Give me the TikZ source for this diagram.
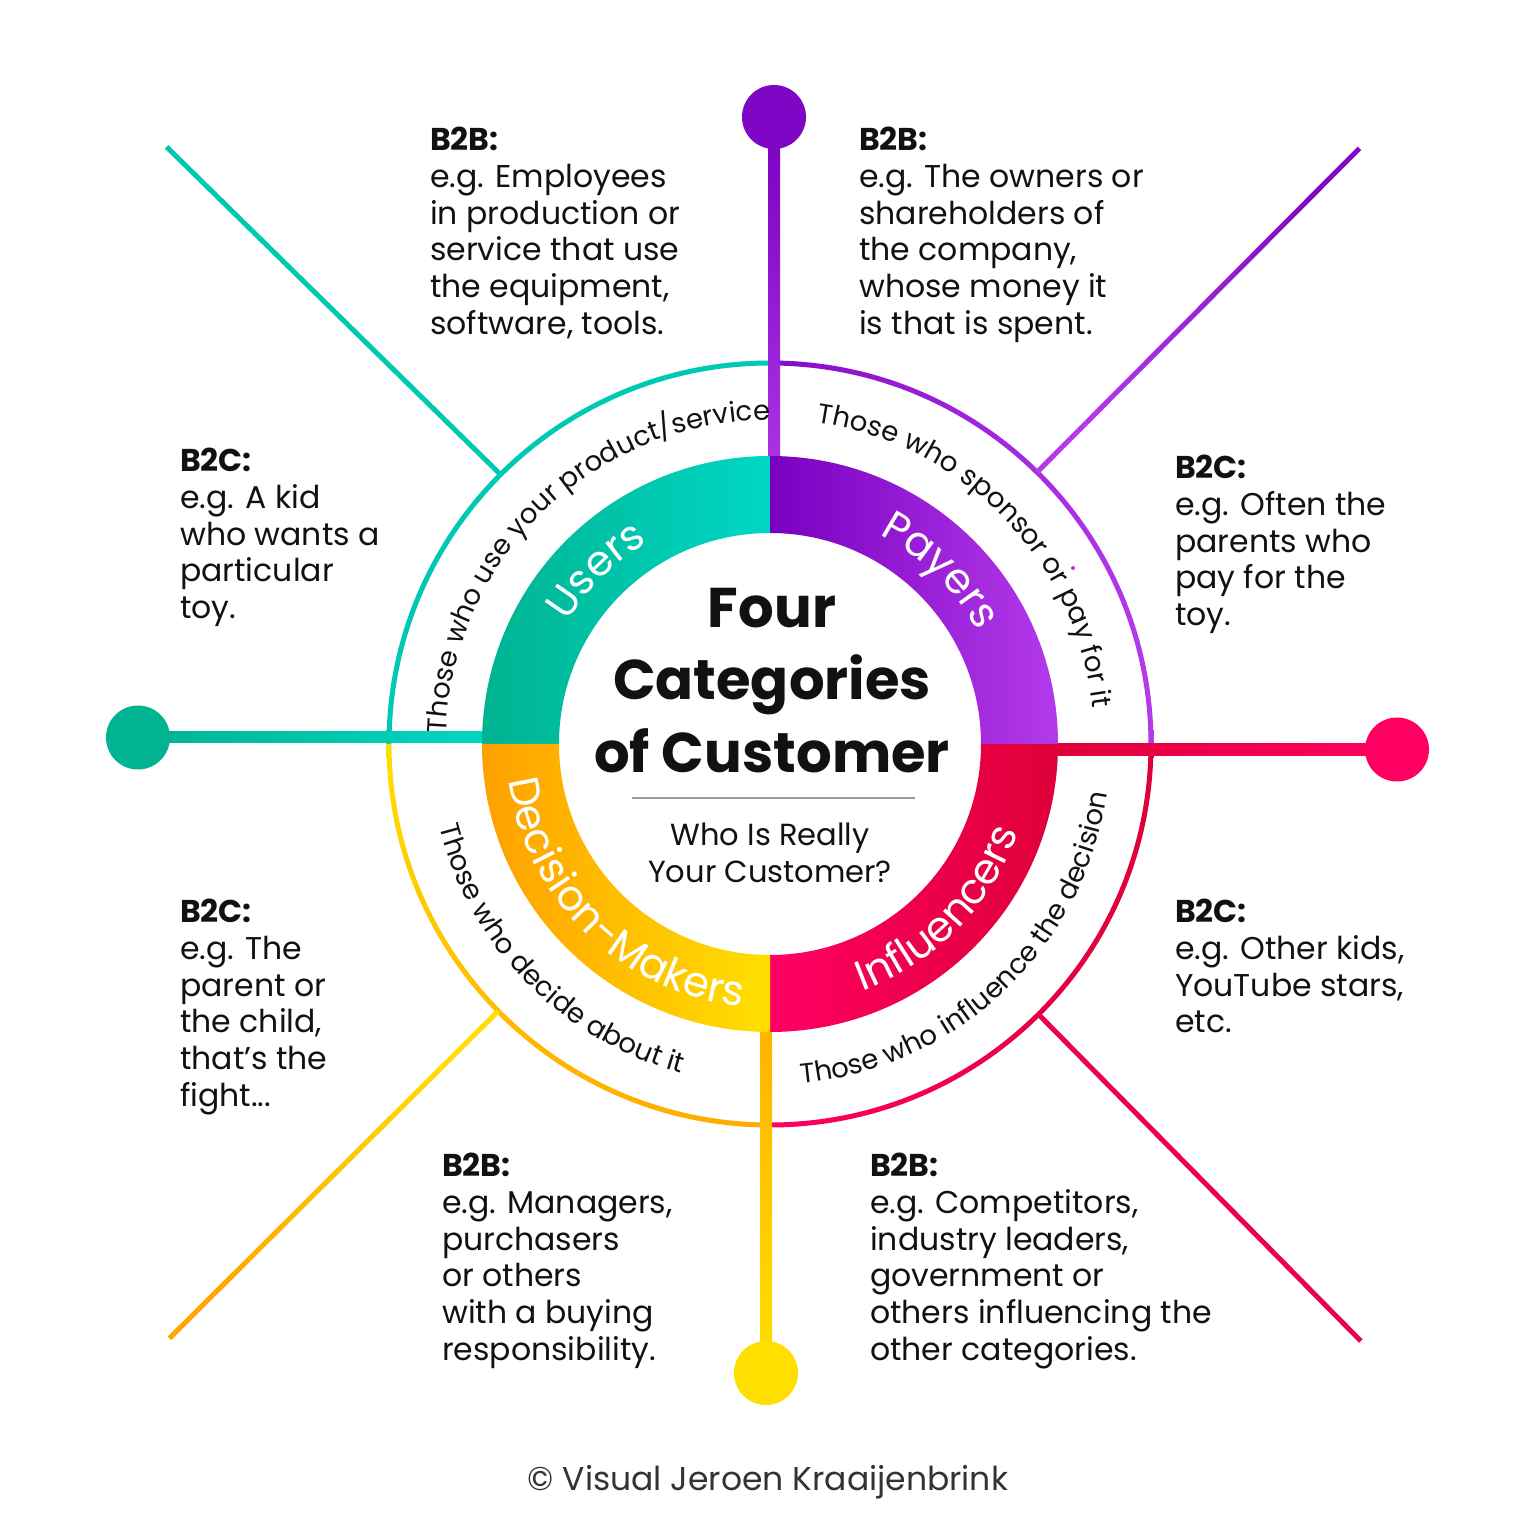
\documentclass[tikz,border=0pt]{standalone}
\usepackage{fontspec}
\setmainfont{Poppins}
\usetikzlibrary{decorations.text,calc}
\definecolor{tealD}{HTML}{00B391}
\definecolor{tealL}{HTML}{00D7C5}
\definecolor{tealM}{HTML}{00C9B3}
\definecolor{purD}{HTML}{7800C0}
\definecolor{purL}{HTML}{B43BEA}
\definecolor{purM}{HTML}{9A28DA}
\definecolor{redD}{HTML}{DE0038}
\definecolor{redL}{HTML}{FF0062}
\definecolor{redM}{HTML}{EC0050}
\definecolor{oraD}{HTML}{FFA000}
\definecolor{yelL}{HTML}{FFDF00}
\definecolor{yelM}{HTML}{FFCC00}
\definecolor{txt}{HTML}{111111}
\newcommand\arcfont{\fontsize{27.5}{27.5}\selectfont}
\newcommand\lblfont{\fontsize{42}{42}\selectfont}
\begin{document}
\begin{tikzpicture}[x=1pt,y=1pt,
  dot/.style={circle,inner sep=0pt,minimum size=64pt},
  diag/.style={line width=5pt},
  blk/.style={anchor=north west,inner sep=0pt,align=left,text=txt,font=\fontsize{31.5}{36.7}\selectfont},
  ttl/.style={anchor=base,inner sep=0pt,text=txt,font=\fontsize{56}{56}\selectfont\bfseries},
  sub/.style={anchor=base,inner sep=0pt,text=txt,font=\fontsize{30.5}{30.5}\selectfont}]
\useasboundingbox (-770,-792) rectangle (766,744);
\fill[white] (-770,-792) rectangle (766,744);

% thin outer circle, four coloured quarters
\shade[left color=tealM,right color=tealM] (180:383.5) arc[start angle=180,end angle=90,radius=383.5] -- (90:378.5) arc[start angle=90,end angle=180,radius=378.5] -- cycle;
\shade[left color=purD!80!purL,right color=purL] (90:383.5) arc[start angle=90,end angle=0,radius=383.5] -- (0:378.5) arc[start angle=0,end angle=90,radius=378.5] -- cycle;
\shade[left color=redL,right color=redD] (270:383.5) arc[start angle=270,end angle=360,radius=383.5] -- (0:378.5) arc[start angle=360,end angle=270,radius=378.5] -- cycle;
\shade[top color=yelL,bottom color=oraD!80!yelL] (180:383.5) arc[start angle=180,end angle=270,radius=383.5] -- (270:378.5) arc[start angle=270,end angle=180,radius=378.5] -- cycle;

% diagonal lines
\coordinate (dTLa) at (135:381); \coordinate (dTLb) at (135.3:849);
\coordinate (dTRa) at (45.5:381); \coordinate (dTRb) at (45.3:838);
\coordinate (dBLa) at (224.5:381); \coordinate (dBLb) at (224.7:845);
\coordinate (dBRa) at (314.8:381); \coordinate (dBRb) at (314.7:840);
\draw[diag,tealM] (dTLa) -- (dTLb);
\shade[top color=purD!85!purL,bottom color=purL,shading angle=-45]
  ($(dTRa)!2.5pt!90:(dTRb)$) -- ($(dTRb)!2.5pt!-90:(dTRa)$) -- ($(dTRb)!2.5pt!90:(dTRa)$) -- ($(dTRa)!2.5pt!-90:(dTRb)$) -- cycle;
\shade[top color=yelL,bottom color=oraD!90!yelL,shading angle=-45]
  ($(dBLa)!2.5pt!90:(dBLb)$) -- ($(dBLb)!2.5pt!-90:(dBLa)$) -- ($(dBLb)!2.5pt!90:(dBLa)$) -- ($(dBLa)!2.5pt!-90:(dBLb)$) -- cycle;
\draw[diag,redM] (dBRa) -- (dBRb);

% connector lines to dots
\coordinate (aT) at (4,280);   \coordinate (cT) at (4,627);
\coordinate (aL) at (-280,6.5); \coordinate (cL) at (-632,6.5);
\coordinate (aR) at (280,-5.5); \coordinate (cR) at (627,-5.5);
\coordinate (aB) at (-4,-280);  \coordinate (cB) at (-4,-629);
\shade[top color=purD,bottom color=purL!85!purD] ([xshift=-6pt]cT) rectangle ([xshift=6pt]aT);
\shade[left color=tealD,right color=tealL] ([yshift=-5.5pt]cL) rectangle ([yshift=5.5pt]aL);
\shade[left color=redD,right color=redL] ([yshift=-6pt]aR) rectangle ([yshift=6pt]cR);
\shade[top color=oraD!70!yelL,bottom color=yelL] ([xshift=-6pt]aB) rectangle ([xshift=6pt]cB);
\node[dot,fill=purD!90!purL] (dotT) at (cT) {};
\node[dot,fill=tealD] (dotL) at (cL) {};
\node[dot,fill=redL] (dotR) at (cR) {};
\node[dot,fill=yelL] (dotB) at (cB) {};

% ring quadrants
\shade[left color=tealD,right color=tealL] (180:288) arc[start angle=180,end angle=90,radius=288] -- (90:211) arc[start angle=90,end angle=180,radius=211] -- cycle;
\shade[left color=purD,right color=purL] (90:288) arc[start angle=90,end angle=0,radius=288] -- (0:211) arc[start angle=0,end angle=90,radius=211] -- cycle;
\shade[left color=redL,right color=redD] (270:288) arc[start angle=270,end angle=360,radius=288] -- (0:211) arc[start angle=360,end angle=270,radius=211] -- cycle;
\shade[left color=oraD,right color=yelL] (180:288) arc[start angle=180,end angle=270,radius=288] -- (270:211) arc[start angle=270,end angle=180,radius=211] -- cycle;

% ring labels
\path[decorate,decoration={text along path,text align=center,text color=white,text={|\lblfont|Users}}]
  (205:236) arc[start angle=205,end angle=65,radius=236];
\path[decorate,decoration={text along path,text align=center,text color=white,text={|\lblfont|Payers}}]
  (115.5:236) arc[start angle=115.5,end angle=-24.5,radius=236];
\path[decorate,decoration={text along path,text align=center,text color=white,text={|\lblfont|Decision-Makers}}]
  (156:264) arc[start angle=156,end angle=296,radius=264];
\path[decorate,decoration={text along path,text align=center,text color=white,text={|\lblfont|Influencers}}]
  (245.5:264) arc[start angle=245.5,end angle=385.5,radius=264];

% descriptions along the outer band
\path[decorate,decoration={text along path,text align=center,text color=txt,text={|\arcfont|Those who use your product/service}}]
  (214:324) arc[start angle=214,end angle=54,radius=324];
\path[decorate,decoration={text along path,text align=center,text color=txt,text={|\arcfont|Those who sponsor or pay for it}}]
  (124:325) arc[start angle=124,end angle=-36,radius=325];
\path[decorate,decoration={text along path,text align=center,text color=txt,text={|\arcfont|Those who decide about it}}]
  (144.5:341) arc[start angle=144.5,end angle=304.5,radius=341];
\path[decorate,decoration={text along path,text align=center,text color=txt,text={|\arcfont|Those who influence the decision}}]
  (233.5:341) arc[start angle=233.5,end angle=393.5,radius=341];
\fill[purL] (303,176) circle (2);

% centre title
\node[ttl] (t1) at (2,116) {Four};
\node[ttl] (t2) at (2,44) {Categories};
\node[ttl] (t3) at (2,-29) {of Customer};
\coordinate (r1) at (-138,-54); \coordinate (r2) at (145,-54);
\draw[black!40,line width=1.5pt] (r1) -- (r2);
\node[sub] (s1) at (0,-102) {Who Is Really};
\node[sub] (s2) at (0,-138) {Your Customer?};

% text blocks
\node[blk] (bTL) at (-340,617) {\textbf{B2B:}\\e.g. Employees\\in production or\\service that use\\the equipment,\\software, tools.};
\node[blk] (bTR) at (89,617) {\textbf{B2B:}\\e.g. The owners or\\shareholders of\\the company,\\whose money it\\is that is spent.};
\node[blk] (bLU) at (-590,296) {\textbf{B2C:}\\e.g. A kid\\who wants a\\particular\\toy.};
\node[blk] (bRU) at (405,289) {\textbf{B2C:}\\e.g. Often the\\parents who\\pay for the\\toy.};
\node[blk] (bLL) at (-590,-155) {\textbf{B2C:}\\e.g. The\\parent or\\the child,\\that’s the\\fight...};
\node[blk] (bRL) at (405,-155) {\textbf{B2C:}\\e.g. Other kids,\\YouTube stars,\\etc.};
\node[blk] (bBL) at (-328,-409) {\textbf{B2B:}\\e.g. Managers,\\purchasers\\or others\\with a buying\\responsibility.};
\node[blk] (bBR) at (100,-409) {\textbf{B2B:}\\e.g. Competitors,\\industry leaders,\\government or\\others influencing the\\other categories.};

\node[anchor=base,inner sep=0pt,text=black!80,font=\fontsize{33}{33}\selectfont] (copy) at (-2,-746) {© Visual Jeroen Kraaijenbrink};
\end{tikzpicture}
\end{document}
